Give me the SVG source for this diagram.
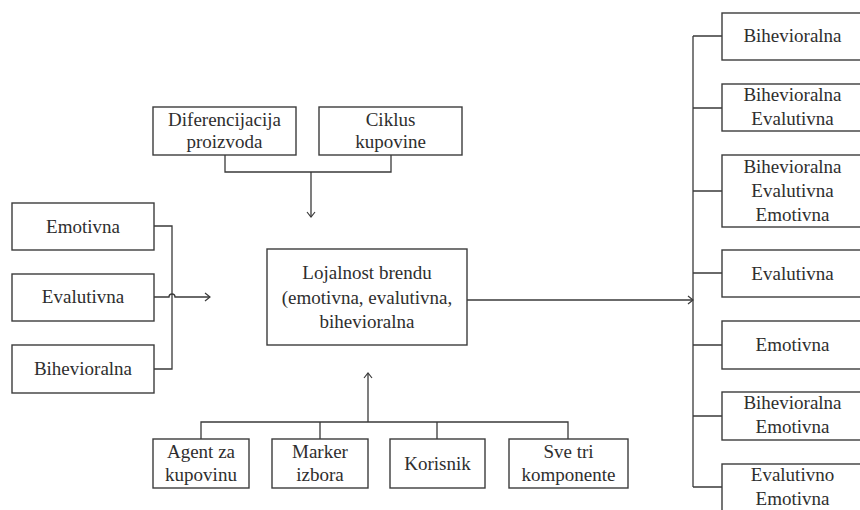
<svg xmlns="http://www.w3.org/2000/svg" width="860" height="510" viewBox="0 0 860 510">
  <defs>
    <marker id="open" markerWidth="8" markerHeight="10" refX="6" refY="5" orient="auto" markerUnits="userSpaceOnUse">
      <path d="M1,1 L6,5 L1,9" fill="none" stroke="#3a3a3a" stroke-width="1.2"/>
    </marker>
    <style>
      .box { fill: #ffffff; stroke: #3c3c3c; stroke-width: 1.4; }
      .ln { fill: none; stroke: #3a3a3a; stroke-width: 1.3; }
      .t { font-family: "Liberation Serif", "Times New Roman", serif; font-size: 19px; fill: #2e2e2e; text-anchor: middle; }
    </style>
  </defs>
  <rect width="860" height="510" fill="#ffffff"/>

  <!-- connectors -->
  <g id="connectors">
    <!-- left components into the centre -->
    <path class="ln" d="M154,226 H172 V369 H154"/>
    <path class="ln" d="M154,297 H169 A3,3 0 0 1 175,297 H210" marker-end="url(#open)"/>
    <!-- top factors -->
    <path class="ln" d="M225,155 V172 H391 V155"/>
    <path class="ln" d="M311,172 V217" marker-end="url(#open)"/>
    <!-- bottom roles -->
    <path class="ln" d="M201,439 V422 H568 V439 M320,422 V439 M437,422 V439"/>
    <path class="ln" d="M368,422 V373" marker-end="url(#open)"/>
    <!-- centre to combinations -->
    <path class="ln" d="M467,300 H693" marker-end="url(#open)"/>
    <path class="ln" d="M693,36 V487 M693,36 H722 M693,108 H722 M693,191 H722 M693,273 H722 M693,345 H722 M693,416 H722 M693,487 H722"/>
  </g>

  <!-- left components -->
  <g id="n-emotivna">
    <rect class="box" x="12" y="203" width="142" height="47"/>
    <text class="t" x="83" y="233">Emotivna</text>
  </g>
  <g id="n-evalutivna">
    <rect class="box" x="12" y="274" width="142" height="47"/>
    <text class="t" x="83" y="303">Evalutivna</text>
  </g>
  <g id="n-bihevioralna">
    <rect class="box" x="12" y="345" width="142" height="48"/>
    <text class="t" x="83" y="375">Bihevioralna</text>
  </g>

  <!-- top factors -->
  <g id="n-diferencijacija">
    <rect class="box" x="153" y="107" width="143" height="48"/>
    <text class="t" x="224.5" y="126">Diferencijacija</text>
    <text class="t" x="224.5" y="148">proizvoda</text>
  </g>
  <g id="n-ciklus">
    <rect class="box" x="319" y="107" width="143" height="48"/>
    <text class="t" x="390.5" y="126">Ciklus</text>
    <text class="t" x="390.5" y="148">kupovine</text>
  </g>

  <!-- centre -->
  <g id="n-lojalnost">
    <rect class="box" x="267" y="249" width="200" height="96"/>
    <text class="t" x="367" y="279">Lojalnost brendu</text>
    <text class="t" x="367" y="304">(emotivna, evalutivna,</text>
    <text class="t" x="367" y="328">bihevioralna</text>
  </g>

  <!-- bottom roles -->
  <g id="n-agent">
    <rect class="box" x="153" y="439" width="96" height="49"/>
    <text class="t" x="201" y="458">Agent za</text>
    <text class="t" x="201" y="481">kupovinu</text>
  </g>
  <g id="n-marker">
    <rect class="box" x="272" y="439" width="96" height="49"/>
    <text class="t" x="320" y="458">Marker</text>
    <text class="t" x="320" y="481">izbora</text>
  </g>
  <g id="n-korisnik">
    <rect class="box" x="390" y="439" width="95" height="49"/>
    <text class="t" x="437.5" y="470">Korisnik</text>
  </g>
  <g id="n-sve-tri">
    <rect class="box" x="509" y="439" width="119" height="49"/>
    <text class="t" x="568.5" y="458">Sve tri</text>
    <text class="t" x="568.5" y="481">komponente</text>
  </g>

  <!-- combinations -->
  <g id="n-r1">
    <rect class="box" x="722" y="13" width="145" height="47"/>
    <text class="t" x="792.5" y="42">Bihevioralna</text>
  </g>
  <g id="n-r2">
    <rect class="box" x="722" y="84" width="145" height="47"/>
    <text class="t" x="792.5" y="101">Bihevioralna</text>
    <text class="t" x="792.5" y="125">Evalutivna</text>
  </g>
  <g id="n-r3">
    <rect class="box" x="722" y="155" width="145" height="72"/>
    <text class="t" x="792.5" y="173">Bihevioralna</text>
    <text class="t" x="792.5" y="197">Evalutivna</text>
    <text class="t" x="792.5" y="221">Emotivna</text>
  </g>
  <g id="n-r4">
    <rect class="box" x="722" y="250" width="145" height="47"/>
    <text class="t" x="792.5" y="280">Evalutivna</text>
  </g>
  <g id="n-r5">
    <rect class="box" x="722" y="321" width="145" height="48"/>
    <text class="t" x="792.5" y="351">Emotivna</text>
  </g>
  <g id="n-r6">
    <rect class="box" x="722" y="392" width="145" height="48"/>
    <text class="t" x="792.5" y="409">Bihevioralna</text>
    <text class="t" x="792.5" y="433">Emotivna</text>
  </g>
  <g id="n-r7">
    <rect class="box" x="722" y="464" width="145" height="52"/>
    <text class="t" x="792.5" y="481">Evalutivno</text>
    <text class="t" x="792.5" y="505">Emotivna</text>
  </g>
</svg>
